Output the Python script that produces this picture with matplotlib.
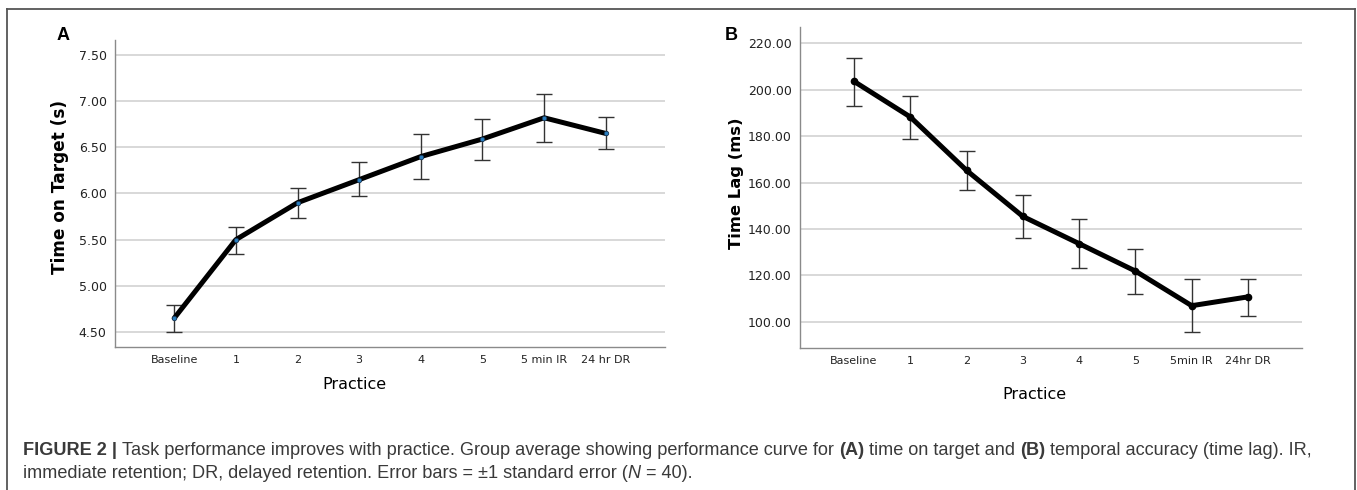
import matplotlib
matplotlib.use("Agg")
import matplotlib.pyplot as plt
from matplotlib.lines import Line2D
from matplotlib.transforms import IdentityTransform

W, H = 1357, 490

sessions_a = ["Baseline", "1", "2", "3", "4", "5", "5 min IR", "24 hr DR"]
sessions_b = ["Baseline", "1", "2", "3", "4", "5", "5min IR", "24hr DR"]

# time on target (s): mean, lower and upper end of +-1 SE bar
tot_mean = [4.65, 5.50, 5.90, 6.15, 6.40, 6.59, 6.82, 6.65]
tot_low = [4.50, 5.35, 5.74, 5.97, 6.16, 6.36, 6.56, 6.48]
tot_high = [4.79, 5.64, 6.06, 6.34, 6.64, 6.81, 7.08, 6.83]

# time lag (ms)
lag_mean = [203.5, 188.2, 165.2, 145.4, 133.7, 121.9, 107.0, 110.8]
lag_low = [193.0, 178.7, 156.6, 136.0, 123.4, 112.2, 95.6, 102.7]
lag_high = [213.7, 197.1, 173.7, 154.8, 144.4, 131.3, 118.5, 118.6]

fig = plt.figure(figsize=(W / 100, H / 100), dpi=100)


def px_axes(left, top, right, bottom):
    return fig.add_axes([left / W, 1 - bottom / H, (right - left) / W, (bottom - top) / H])


def style(ax, labels, ylim, yticks, fmt):
    ax.set_xlim(-0.96, len(labels) - 1 + 0.96)
    ax.set_ylim(*ylim)
    ax.set_xticks(range(len(labels)))
    ax.set_xticklabels(labels, fontsize=8, family="DejaVu Sans")
    ax.set_yticks(yticks)
    ax.set_yticklabels([fmt.format(v) for v in yticks], fontsize=9, family="DejaVu Sans")
    ax.tick_params(length=0, pad=6, colors="#222222")
    ax.yaxis.grid(True, color="#d6d6d6", lw=1.3)
    ax.set_axisbelow(True)
    for s in ["top", "right"]:
        ax.spines[s].set_visible(False)
    for s in ["left", "bottom"]:
        ax.spines[s].set_color("#8a8a8a")
        ax.spines[s].set_linewidth(1.0)


def draw(ax, mean, low, high, marker_kw):
    x = list(range(len(mean)))
    err = [[m - l for m, l in zip(mean, low)], [h - m for m, h in zip(mean, high)]]
    ax.errorbar(x, mean, yerr=err, fmt="none", ecolor="#333333", elinewidth=1.0,
                capsize=6, capthick=1.0, zorder=3)
    ax.plot(x, mean, color="black", lw=3.6, solid_capstyle="round", zorder=4)
    ax.plot(x, mean, ls="none", zorder=5, **marker_kw)


# panel A
ax1 = px_axes(115, 40, 665, 347)
style(ax1, sessions_a, (4.338, 7.662), [4.5, 5.0, 5.5, 6.0, 6.5, 7.0, 7.5], "{:.2f}")
draw(ax1, tot_mean, tot_low, tot_high,
     dict(marker="o", ms=3.2, mfc="#2a7fc0", mec="#1a3a5a", mew=0.6))
ax1.set_ylabel("Time on Target (s)", fontsize=12.2, fontweight="bold")
ax1.set_xlabel("Practice", fontsize=11.5)
ax1.yaxis.set_label_coords(-0.083, 0.52)
ax1.xaxis.set_label_coords(0.436, -0.097)

# panel B
ax2 = px_axes(800, 27, 1302, 348)
style(ax2, sessions_b, (88.8, 226.9), [100, 120, 140, 160, 180, 200, 220], "{:.2f}")
draw(ax2, lag_mean, lag_low, lag_high,
     dict(marker="o", ms=4.5, mfc="black", mec="black"))
ax2.set_ylabel("Time Lag (ms)", fontsize=11.8, fontweight="bold")
ax2.set_xlabel("Practice", fontsize=11.5)
ax2.yaxis.set_label_coords(-0.111, 0.514)
ax2.xaxis.set_label_coords(0.468, -0.122)

fig.text(63 / W, 1 - 35 / H, "A", fontsize=13, fontweight="bold",
         family="Liberation Sans", ha="center", va="center")
fig.text(731 / W, 1 - 35 / H, "B", fontsize=13, fontweight="bold",
         family="Liberation Sans", ha="center", va="center")

# outer frame
frame_kw = dict(color="#555555", lw=1.3, transform=fig.transFigure)
fig.add_artist(Line2D([7 / W, 7 / W], [0, 1 - 9 / H], **frame_kw))
fig.add_artist(Line2D([7 / W, 1355 / W], [1 - 9 / H, 1 - 9 / H], **frame_kw))
fig.add_artist(Line2D([1355 / W, 1355 / W], [0, 1 - 9 / H], **frame_kw))

# caption, written run by run so bold and italic parts can be mixed
renderer = fig.canvas.get_renderer()
cap_size = 13.1


def text_width(s, **kw):
    t = fig.text(0, 0, s, fontsize=cap_size, family="Liberation Sans", **kw)
    w = t.get_window_extent(renderer).width
    t.remove()
    return w


space = text_width("n n") - text_width("nn")


def caption_line(x, y, runs):
    for s, kw, gap in runs:
        t = fig.text(x, y, s, transform=IdentityTransform(), fontsize=cap_size,
                     family="Liberation Sans", color="#3a3a3a", va="baseline", **kw)
        x += t.get_window_extent(renderer).width + (space if gap else 0)


normal = {}
bold = dict(fontweight="bold")
ital = dict(style="italic")
caption_line(23, H - 455, [
    ("FIGURE 2 |", bold, True),
    ("Task performance improves with practice. Group average showing performance curve for", normal, True),
    ("(A)", bold, True),
    ("time on target and", normal, True),
    ("(B)", bold, True),
    ("temporal accuracy (time lag). IR,", normal, False),
])
caption_line(23, H - 478, [
    ("immediate retention; DR, delayed retention. Error bars = \u00b11 standard error (", normal, False),
    ("N", ital, True),
    ("= 40).", normal, False),
])

fig.savefig("out.png", dpi=100)
